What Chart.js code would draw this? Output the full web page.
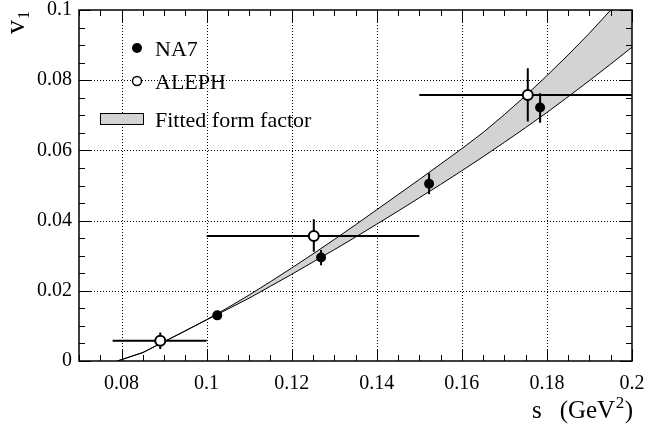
<!DOCTYPE html>
<html><head><meta charset="utf-8">
<script src="https://cdn.jsdelivr.net/npm/chart.js@4"></script>
<style>html,body{margin:0;padding:0;background:#fff}#wrap{width:645px;height:432px}</style>
</head><body><div id="wrap"><canvas id="c" width="645" height="432"></canvas></div>
<script>
// ---- data ----
const xTickVals = [0.08, 0.1, 0.12, 0.14, 0.16, 0.18, 0.2];
const xTickLabels = ['0.08', '0.1', '0.12', '0.14', '0.16', '0.18', '0.2'];
const yTickVals = [0, 0.02, 0.04, 0.06, 0.08, 0.1];
const yTickLabels = ['0', '0.02', '0.04', '0.06', '0.08', '0.1'];

const na7S  = [0.1025, 0.1269, 0.1523, 0.1784];
const na7V  = [0.0130, 0.0295, 0.0505, 0.0722];
const na7Lo = [0.0122, 0.0273, 0.0475, 0.0679];
const na7Hi = [0.0138, 0.0316, 0.0535, 0.0763];

const alephS   = [0.0891, 0.1252, 0.1755];
const alephV   = [0.0058, 0.0356, 0.0758];
const alephSLo = [0.0779, 0.1000, 0.1500];
const alephSHi = [0.1000, 0.1500, 0.2000];
const alephVLo = [0.0034, 0.0311, 0.0682];
const alephVHi = [0.0081, 0.0404, 0.0834];

const bandS    = [0.079,0.085,0.09,0.095,0.10,0.105,0.11,0.115,0.12,0.125,0.13,0.135,0.14,0.145,0.15,0.155,0.16,0.165,0.17,0.175,0.18,0.185,0.19,0.195,0.2];
const bandLow  = [0,0.0024,0.0055,0.0086,0.0117,0.0148,0.0179,0.0213,0.0247,0.0282,0.0317,0.0353,0.0390,0.0427,0.0465,0.0503,0.0542,0.0582,0.0623,0.0665,0.0708,0.0753,0.0799,0.0846,0.0894];
const bandHigh = [0,0.0024,0.0055,0.0086,0.0118,0.0152,0.0188,0.0226,0.0265,0.0305,0.0346,0.0388,0.0431,0.0474,0.0517,0.0561,0.0605,0.0651,0.0702,0.0756,0.0813,0.0872,0.0934,0.1000,0.1068];

const legendLabels = ['NA7', 'ALEPH', 'Fitted form factor'];

// ---- build ----
const FONT = '"Liberation Serif", "Times New Roman", serif';
const upperPts = bandS.map((s, i) => ({x: s, y: bandHigh[i]}));
const lowerPts = bandS.map((s, i) => ({x: s, y: bandLow[i]}));
const errPts = [];
na7S.forEach((s, i) => { errPts.push({x: s, y: na7Lo[i]}, {x: s, y: na7Hi[i]}, {x: s, y: null}); });
alephS.forEach((s, i) => {
  errPts.push({x: s, y: alephVLo[i]}, {x: s, y: alephVHi[i]}, {x: s, y: null});
  errPts.push({x: alephSLo[i], y: alephV[i]}, {x: alephSHi[i], y: alephV[i]}, {x: alephSHi[i], y: null});
});

const frame = {
  id: 'frame',
  beforeDatasetsDraw(chart) {
    const {ctx, chartArea: a, scales: {x, y}} = chart;
    ctx.save();
    ctx.strokeStyle = '#000'; ctx.lineWidth = 1; ctx.setLineDash([1, 2]);
    xTickVals.forEach(v => {
      const px = Math.round(x.getPixelForValue(v)) + 0.5;
      if (px <= a.left + 2 || px >= a.right - 2) return;
      ctx.beginPath(); ctx.moveTo(px, a.top); ctx.lineTo(px, a.bottom); ctx.stroke();
    });
    yTickVals.forEach(v => {
      const py = Math.round(y.getPixelForValue(v)) + 0.5;
      if (py <= a.top + 2 || py >= a.bottom - 2) return;
      ctx.beginPath(); ctx.moveTo(a.left, py); ctx.lineTo(a.right, py); ctx.stroke();
    });
    ctx.restore();
  },
  afterDraw(chart) {
    const {ctx, chartArea: a, scales: {x, y}} = chart;
    ctx.save();
    ctx.strokeStyle = '#000'; ctx.lineWidth = 1; ctx.setLineDash([]);
    for (let k = 0; k <= 26; k++) {
      const v = 0.07 + k * 0.005;
      const major = xTickVals.some(t => Math.abs(t - v) < 1e-6);
      const L = major ? 12 : 6;
      const px = Math.round(x.getPixelForValue(v)) + 0.5;
      ctx.beginPath();
      ctx.moveTo(px, a.bottom); ctx.lineTo(px, a.bottom - L);
      ctx.moveTo(px, a.top); ctx.lineTo(px, a.top + L);
      ctx.stroke();
    }
    for (let k = 0; k <= 20; k++) {
      const v = k * 0.005;
      const major = yTickVals.some(t => Math.abs(t - v) < 1e-6);
      const L = major ? 12 : 6;
      const py = Math.round(y.getPixelForValue(v)) + 0.5;
      ctx.beginPath();
      ctx.moveTo(a.left, py); ctx.lineTo(a.left + L, py);
      ctx.moveTo(a.right, py); ctx.lineTo(a.right - L, py);
      ctx.stroke();
    }
    ctx.lineWidth = 1.5;
    ctx.strokeRect(a.left, a.top, a.right - a.left, a.bottom - a.top);

    // legend
    ctx.fillStyle = '#000';
    ctx.beginPath(); ctx.arc(137, 48, 5, 0, Math.PI * 2); ctx.fill();
    ctx.beginPath(); ctx.arc(137, 81, 4.5, 0, Math.PI * 2);
    ctx.fillStyle = '#fff'; ctx.fill(); ctx.lineWidth = 1.5; ctx.stroke();
    ctx.fillStyle = '#d3d3d3'; ctx.fillRect(100.5, 113.5, 43, 11);
    ctx.lineWidth = 1; ctx.strokeRect(100.5, 113.5, 43, 11);
    ctx.fillStyle = '#000';
    ctx.font = '22px ' + FONT; ctx.textBaseline = 'alphabetic'; ctx.textAlign = 'left';
    ctx.fillText(legendLabels[0], 155, 56);
    ctx.fillText(legendLabels[1], 155, 89);
    ctx.fillText(legendLabels[2], 155, 127);

    // x title: s (GeV^2)
    const base = 418;
    ctx.font = '25px ' + FONT; const wG = ctx.measureText('(GeV').width, wP = ctx.measureText(')').width;
    ctx.font = '17px ' + FONT; const w2 = ctx.measureText('2').width;
    const gx = 633 - (wG + w2 + wP + 1);
    ctx.font = '25px ' + FONT;
    ctx.fillText('s', 532, base);
    ctx.fillText('(GeV', gx, base);
    ctx.font = '17px ' + FONT; ctx.fillText('2', gx + wG + 0.5, base - 10);
    ctx.font = '25px ' + FONT; ctx.fillText(')', gx + wG + w2 + 1, base);

    // y title: v_1 rotated
    ctx.save();
    ctx.translate(24, 34);
    ctx.rotate(-Math.PI / 2);
    ctx.font = '28px ' + FONT;
    ctx.fillText('v', 0, 0);
    const wv = ctx.measureText('v').width;
    ctx.font = '16px ' + FONT;
    ctx.fillText('1', wv + 1, 5);
    ctx.restore();
    ctx.restore();
  }
};

function noPad(s) { s.paddingTop = 0; s.paddingBottom = 0; s.paddingLeft = 0; s.paddingRight = 0; }

new Chart(document.getElementById('c'), {
  type: 'scatter',
  data: {
    datasets: [
      {type: 'line', data: upperPts, borderColor: '#000', borderWidth: 1, pointRadius: 0,
       fill: '+1', backgroundColor: '#d3d3d3', tension: 0, order: 4},
      {type: 'line', data: lowerPts, borderColor: '#000', borderWidth: 1, pointRadius: 0,
       fill: false, tension: 0, order: 3},
      {type: 'line', data: errPts, borderColor: '#000', borderWidth: 2, pointRadius: 0,
       fill: false, spanGaps: false, tension: 0, order: 2},
      {type: 'scatter', data: na7S.map((s, i) => ({x: s, y: na7V[i]})), pointRadius: 5,
       backgroundColor: '#000', borderColor: '#000', borderWidth: 0, order: 0},
      {type: 'scatter', data: alephS.map((s, i) => ({x: s, y: alephV[i]})), pointRadius: 5,
       backgroundColor: '#fff', borderColor: '#000', borderWidth: 2, order: 0}
    ]
  },
  options: {
    responsive: false, animation: false, devicePixelRatio: 1,
    layout: {padding: {left: 0, right: 13, top: 10, bottom: 0}},
    plugins: {legend: {display: false}, tooltip: {enabled: false}},
    scales: {
      x: {
        type: 'linear', min: 0.07, max: 0.2,
        grid: {display: false, drawTicks: false}, border: {display: false},
        afterBuildTicks: s => { s.ticks = xTickVals.map(v => ({value: v})); },
        afterFit: s => { s.height = 71; noPad(s); },
        ticks: {color: '#000', font: {family: FONT, size: 20}, padding: 11, maxRotation: 0, autoSkip: false,
          callback: (v) => { const i = xTickVals.findIndex(t => Math.abs(t - v) < 1e-9); return i >= 0 ? xTickLabels[i] : ''; }}
      },
      y: {
        type: 'linear', min: 0, max: 0.1,
        grid: {display: false, drawTicks: false}, border: {display: false},
        afterBuildTicks: s => { s.ticks = yTickVals.map(v => ({value: v})); },
        afterFit: s => { s.width = 79; noPad(s); },
        ticks: {color: '#000', font: {family: FONT, size: 20}, padding: 7, autoSkip: false,
          callback: (v) => { const i = yTickVals.findIndex(t => Math.abs(t - v) < 1e-9); return i >= 0 ? yTickLabels[i] : ''; }}
      }
    }
  },
  plugins: [frame]
});
</script>
</body></html>
